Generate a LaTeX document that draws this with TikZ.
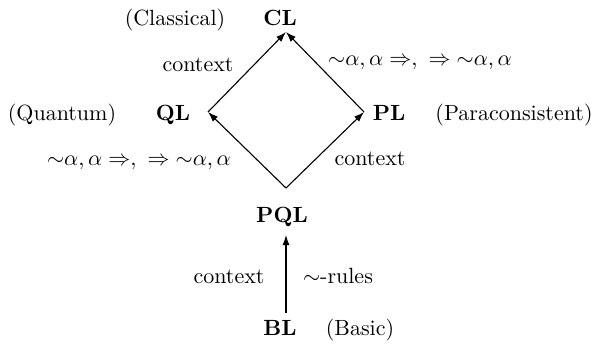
\documentclass[tikz,border=0pt]{standalone}
\usetikzlibrary{arrows.meta}
\begin{document}
\begin{tikzpicture}[x=0.4545pt,y=-0.4545pt,
  txt/.style={anchor=base,inner sep=0pt,outer sep=0pt},
  logic/.style={txt,font=\bfseries},
  arr/.style={line width=0.5pt,-{Latex[length=4.6pt,width=3.2pt]}}]
\useasboundingbox (0,0) rectangle (598,350);
% logic names
\node[logic] (CL) at (280,25) {CL};
\node[logic] (QL) at (173,120) {QL};
\node[logic] (PL) at (389,120) {PL};
\node[logic] (PQL) at (282,222) {PQL};
\node[logic] (BL) at (280,335) {BL};
% descriptions
\node[txt] (cls) at (175,25) {(Classical)};
\node[txt] (qnt) at (62,120) {(Quantum)};
\node[txt] (par) at (514,120) {(Paraconsistent)};
\node[txt] (bas) at (360,335) {(Basic)};
% connector end points
\coordinate (clv) at (286,32);
\coordinate (qlv) at (208,112);
\coordinate (plv) at (364,112);
\coordinate (pqlv) at (286,188);
\coordinate (blt) at (286,313);
\coordinate (pqlb) at (286,235);
% connectors
\draw[arr] (qlv) -- (clv);
\draw[arr] (plv) -- (clv);
\draw[arr] (pqlv) -- (qlv);
\draw[arr] (pqlv) -- (plv);
\draw[arr] (blt) -- (pqlb);
% labels
\node[txt] (l1) at (198,71) {context};
\node[txt] (l2) at (420,65) {${\sim}\alpha, \alpha \Rightarrow,\ \Rightarrow {\sim}\alpha, \alpha$};
\node[txt] (l3) at (139,165) {${\sim}\alpha, \alpha \Rightarrow,\ \Rightarrow {\sim}\alpha, \alpha$};
\node[txt] (l4) at (370,165) {context};
\node[txt] (l5) at (229,283) {context};
\node[txt] (l6) at (338,283) {${\sim}$-rules};
\end{tikzpicture}
\end{document}
